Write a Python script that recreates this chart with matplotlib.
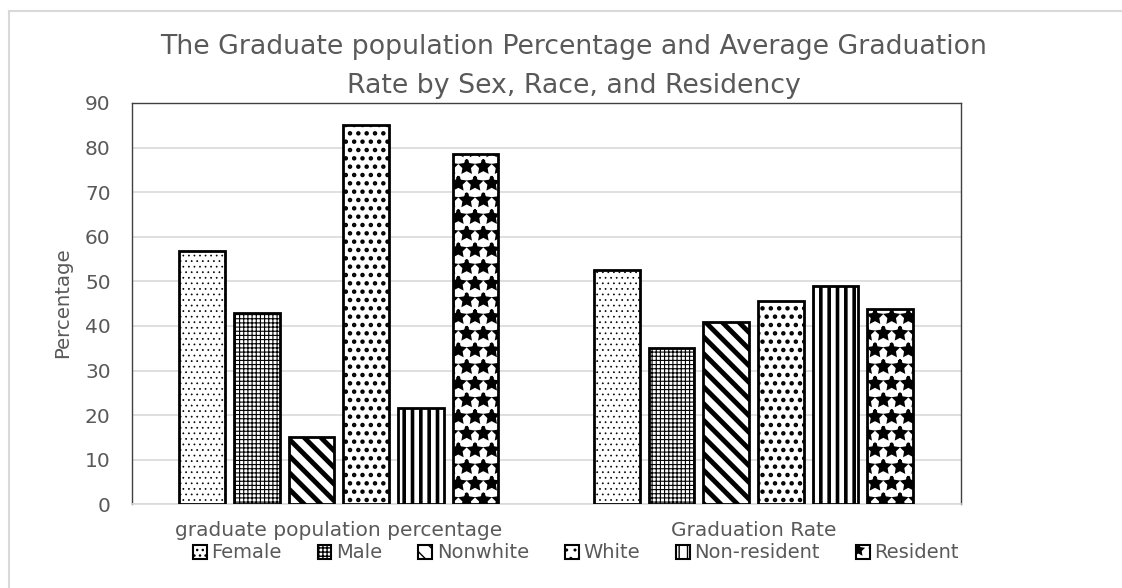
import matplotlib
matplotlib.use("Agg")
import matplotlib.pyplot as plt
from matplotlib.patches import Patch
from matplotlib.lines import Line2D
import numpy as np

categories = ["graduate population percentage", "Graduation Rate"]
series_names = ["Female", "Male", "Nonwhite", "White", "Non-resident", "Resident"]
female = [56.7, 52.5]
male = [43.0, 35.0]
nonwhite = [15.0, 40.8]
white = [85.0, 45.7]
nonresident = [21.7, 48.9]
resident = [78.6, 43.9]
series_values = [female, male, nonwhite, white, nonresident, resident]
yticks = list(range(0, 100, 10))
title_lines = ["The Graduate population Percentage and Average Graduation",
               "Rate by Sex, Race, and Residency"]
ylabel = "Percentage"

hatches = ["...", "++++", "\\\\", "..", "||", "*"]
hatch_lws = [0.5, 0.8, 3.5, 2.0, 2.6, 2.2]

GRAY_TXT = "#595959"
GRID = "#D9D9D9"
FONT = "DejaVu Sans"
plt.rcParams["font.family"] = [FONT]

fig = plt.figure(figsize=(11.22, 5.88), dpi=100)
ax = fig.add_axes([131.5/1122, 1-504.3/588, (960.7-131.5)/1122, (504.3-103)/588])

x = np.arange(len(categories))
pitch = 0.1317
width = 0.11
for i, (vals, name) in enumerate(zip(series_values, series_names)):
    with plt.rc_context({"hatch.linewidth": hatch_lws[i]}):
        bars = ax.bar(x + (i - 2.5) * pitch, vals, width, color="white",
                      edgecolor="black", linewidth=2.0, hatch=hatches[i],
                      label=name, zorder=3)
    for b in bars:
        if hasattr(b, "set_hatch_linewidth"):
            b.set_hatch_linewidth(hatch_lws[i])

ax.set_xlim(-0.5, 1.5)
ax.set_ylim(0, 90)
ax.set_yticks(yticks)
ax.set_xticks(x)
ax.set_xticklabels(categories)
ax.tick_params(axis="both", length=0, colors=GRAY_TXT, labelsize=14.5)
ax.tick_params(axis="y", labelsize=14.5, pad=15)
ax.tick_params(axis="x", pad=12)
ax.yaxis.grid(True, color=GRID, linewidth=1.2, zorder=0)
ax.set_axisbelow(True)
for s in ["top", "left", "right"]:
    ax.spines[s].set_color("#404040")
    ax.spines[s].set_linewidth(1.0)
ax.spines["bottom"].set_color(GRID)
ax.spines["bottom"].set_linewidth(1.2)

ax.set_ylabel(ylabel, color=GRAY_TXT, fontsize=14.2)
ax.yaxis.set_label_coords((72-131.5)/829.2, 0.502)

fig.text(574/1122, 1-47/588, title_lines[0], ha="center", va="center",
         color=GRAY_TXT, fontsize=19.3)
fig.text(574/1122, 1-86/588, title_lines[1], ha="center", va="center",
         color=GRAY_TXT, fontsize=19.3)

handles = []
for i, name in enumerate(series_names):
    with plt.rc_context({"hatch.linewidth": hatch_lws[i]}):
        p = Patch(facecolor="white", edgecolor="black", linewidth=1.5,
                  hatch=hatches[i], label=name)
    if hasattr(p, "set_hatch_linewidth"):
        p.set_hatch_linewidth(hatch_lws[i])
    handles.append(p)
leg = fig.legend(handles=handles, loc="center", bbox_to_anchor=(576/1122, 1-553/588),
                 ncol=6, frameon=False, fontsize=14, handlelength=0.7,
                 handleheight=0.7, handletextpad=0.25, columnspacing=1.85,
                 labelcolor=GRAY_TXT, borderpad=0.0)

# outer chart border (top and left edges visible)
fig.add_artist(Line2D([9/1122, 1.0], [1-11/588, 1-11/588], transform=fig.transFigure,
                      color="#D9D9D9", linewidth=1.5))
fig.add_artist(Line2D([9/1122, 9/1122], [0.0, 1-11/588], transform=fig.transFigure,
                      color="#D9D9D9", linewidth=1.5))

fig.savefig("out.png", dpi=100)
